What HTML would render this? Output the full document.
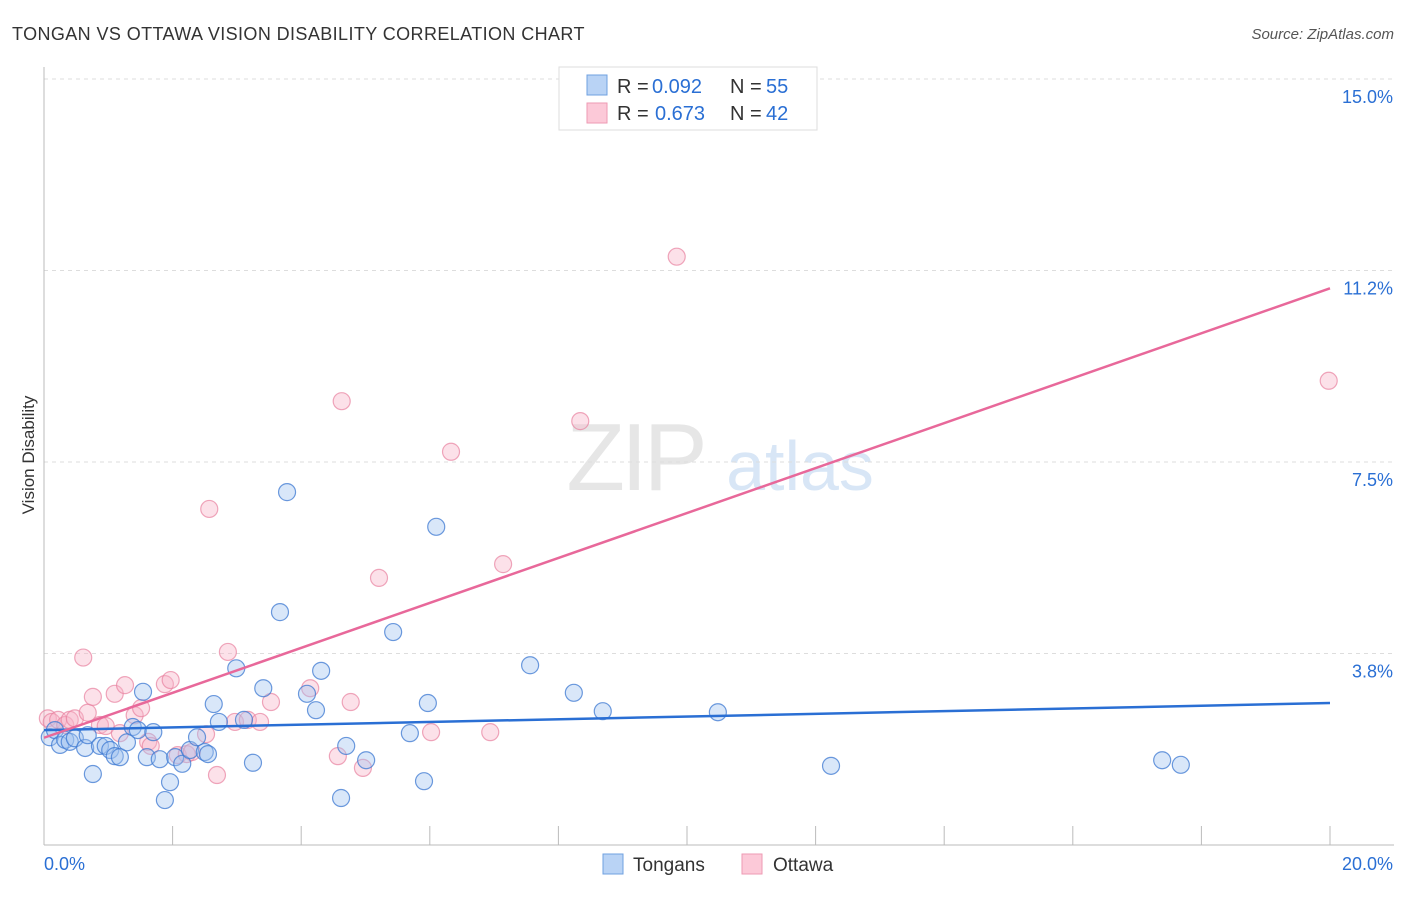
<!DOCTYPE html>
<html><head><meta charset="utf-8">
<style>
body{margin:0;background:#fff;font-family:"Liberation Sans",sans-serif;}
svg text{font-family:"Liberation Sans",sans-serif;}
</style></head>
<body>
<svg id="chart" width="1406" height="892" viewBox="0 0 1406 892" xmlns="http://www.w3.org/2000/svg">
<text x="12" y="40" font-size="18" fill="#333" letter-spacing="0.4">TONGAN VS OTTAWA VISION DISABILITY CORRELATION CHART</text>
<text x="1394" y="39" font-size="15" fill="#555" font-style="italic" text-anchor="end">Source: ZipAtlas.com</text>
<text x="0" y="0" transform="translate(34,455) rotate(-90)" font-size="17" fill="#333" text-anchor="middle">Vision Disability</text>
<g>
<text x="635" y="490" font-size="96" fill="#e6e6e6" font-family="Liberation Serif" text-anchor="middle" letter-spacing="-4">ZIP</text>
<text x="800" y="490" font-size="70" fill="#d8e6f6" text-anchor="middle">atlas</text>
</g>
<g id="grid"></g>
<g id="axes"></g>
<g id="pts"></g>
<g id="lines"></g>
<g>
<rect x="559" y="67" width="258" height="63" fill="#fff" stroke="#ddd"/>
<rect x="587" y="75" width="20" height="20" fill="#b9d3f5" stroke="#6fa0e0"/>
<rect x="587" y="103" width="20" height="20" fill="#fcc9d8" stroke="#ee9ab3"/>
<g font-size="20">
<text x="617" y="93" fill="#333">R =</text><text x="652" y="93" fill="#2a6fd4">0.092</text>
<text x="730" y="93" fill="#333">N =</text><text x="766" y="93" fill="#2a6fd4">55</text></g>
<g font-size="20">
<text x="617" y="120" fill="#333">R =</text><text x="655" y="120" fill="#2a6fd4">0.673</text>
<text x="730" y="120" fill="#333">N =</text><text x="766" y="120" fill="#2a6fd4">42</text></g>
</g>
<g>
<rect x="603" y="854" width="20" height="20" fill="#b9d3f5" stroke="#6fa0e0"/>
<text x="633" y="871" font-size="19" fill="#333">Tongans</text>
<rect x="742" y="854" width="20" height="20" fill="#fcc9d8" stroke="#ee9ab3"/>
<text x="773" y="871" font-size="19" fill="#333">Ottawa</text>
</g>
</svg>
<script>
const yTicks=[3.75,7.5,11.25,15];
const yTickLabels=["3.8%","7.5%","11.2%","15.0%"];
const xTicks=[0,2,4,6,8,10,12,14,16,18,20];
const xEndLabels=["0.0%","20.0%"];
const tonganX=[0.09,0.17,0.25,0.33,0.40,0.48,0.64,0.68,0.76,0.87,0.96,1.03,1.10,1.18,1.29,1.38,1.46,1.54,1.60,1.70,1.80,1.88,1.96,2.04,2.15,2.27,2.38,2.50,2.55,2.64,2.72,2.99,3.11,3.25,3.41,3.67,3.78,4.09,4.23,4.31,4.62,4.70,5.01,5.43,5.69,5.91,5.97,6.10,7.56,8.24,8.69,10.48,12.24,17.39,17.68];
const tonganY=[2.11,2.25,1.96,2.06,2.02,2.09,1.90,2.15,1.39,1.94,1.94,1.86,1.74,1.72,2.01,2.31,2.25,3.00,1.72,2.21,1.68,0.88,1.23,1.72,1.59,1.86,2.11,1.82,1.78,2.76,2.41,3.46,2.45,1.61,3.07,4.56,6.91,2.96,2.64,3.41,0.92,1.94,1.66,4.17,2.19,1.25,2.78,6.23,3.52,2.98,2.62,2.60,1.55,1.66,1.57];
const ottawaX=[0.06,0.12,0.22,0.33,0.40,0.48,0.61,0.68,0.76,0.87,0.96,1.10,1.18,1.26,1.41,1.51,1.62,1.66,1.88,1.97,2.08,2.22,2.30,2.52,2.57,2.69,2.86,2.97,3.17,3.36,3.53,4.14,4.57,4.63,4.77,4.96,5.21,6.02,6.33,6.94,7.14,8.34,9.84,19.98];
const ottawaY=[2.48,2.41,2.45,2.35,2.45,2.48,3.67,2.59,2.90,2.35,2.33,2.96,2.19,3.13,2.54,2.68,2.02,1.94,3.15,3.23,1.76,1.78,1.82,2.17,6.58,1.37,3.78,2.41,2.45,2.41,2.80,3.07,1.74,8.69,2.80,1.51,5.23,2.21,7.70,2.21,5.50,8.30,11.52,9.09];
const trendTongan=[2.25,2.78];
const trendOttawa=[2.1,10.9];
const NS='http://www.w3.org/2000/svg';
const X=v=>44+v*64.3, Y=v=>845-v*51.07;
function mk(tag,attrs,parent){const e=document.createElementNS(NS,tag);for(const k in attrs)e.setAttribute(k,attrs[k]);parent.appendChild(e);return e;}
const grid=document.getElementById('grid'),axes=document.getElementById('axes'),pts=document.getElementById('pts'),lines=document.getElementById('lines');
yTicks.forEach((t,i)=>{
 const l=mk('line',{x1:44,x2:1394,y1:Y(t),y2:Y(t),stroke:'#ddd','stroke-dasharray':'4,4'},grid);
 
 
 const tx=mk('text',{x:1393,y:Y(t)+24,'font-size':18,fill:'#2a6fd4','text-anchor':'end'},axes);
 tx.textContent=yTickLabels[i];
 
 
});
const ya=mk('line',{x1:44,x2:44,y1:67,y2:845,stroke:'#bbb'},axes);


const xa=mk('line',{x1:44,x2:1394,y1:845,y2:845,stroke:'#bbb'},axes);


xTicks.forEach(t=>{
 const k=mk('line',{x1:X(t),x2:X(t),y1:826,y2:845,stroke:'#bbb'},axes);
 
 
});
const xl0=mk('text',{x:44,y:870,'font-size':18,fill:'#2a6fd4'},axes);xl0.textContent=xEndLabels[0];


const xl1=mk('text',{x:1393,y:870,'font-size':18,fill:'#2a6fd4','text-anchor':'end'},axes);xl1.textContent=xEndLabels[1];


ottawaX.forEach((x,i)=>{
 const c=mk('circle',{cx:X(x),cy:Y(ottawaY[i]),r:8.5,fill:'rgba(248,180,200,0.4)',stroke:'rgba(232,130,160,0.7)','stroke-width':1.2},pts);
 
 
});
tonganX.forEach((x,i)=>{
 const c=mk('circle',{cx:X(x),cy:Y(tonganY[i]),r:8.5,fill:'rgba(160,195,240,0.4)',stroke:'rgba(60,120,210,0.75)','stroke-width':1.2},pts);
 
 
});
const tl=mk('line',{x1:X(0),x2:X(20),y1:Y(trendTongan[0]),y2:Y(trendTongan[1]),stroke:'#2a6fd4','stroke-width':2.5},lines);


const ol=mk('line',{x1:X(0),x2:X(20),y1:Y(trendOttawa[0]),y2:Y(trendOttawa[1]),stroke:'#e8689a','stroke-width':2.5},lines);


</script>
</body></html>
